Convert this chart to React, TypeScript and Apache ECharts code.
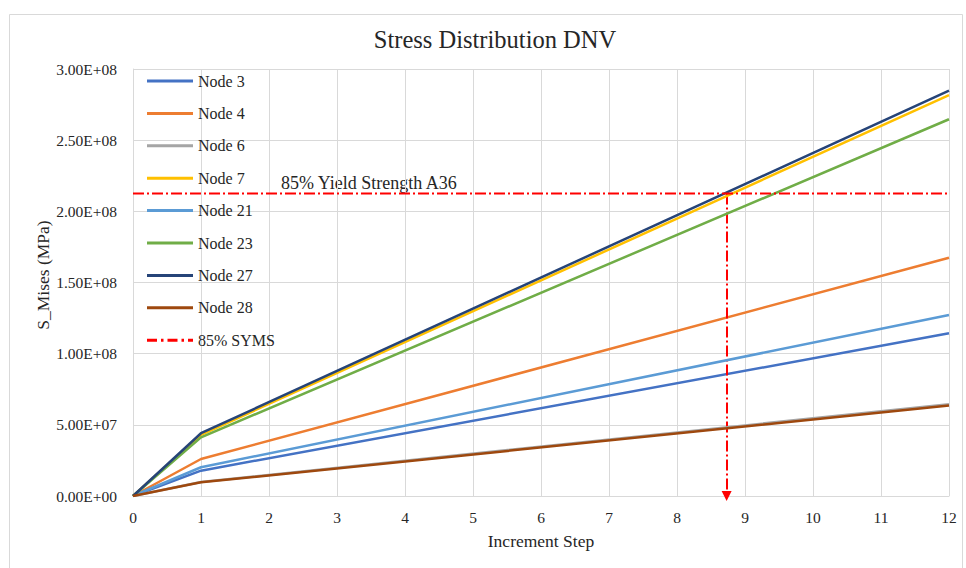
import React, { useEffect, useRef } from "react";
import * as echarts from "echarts";

const steps = [0, 1, 12];
const seriesNames = ["Node 3", "Node 4", "Node 6", "Node 7", "Node 21", "Node 23", "Node 27", "Node 28"];
const node3 = [0, 1.78e7, 1.143e8];
const node4 = [0, 2.6e7, 1.674e8];
const node6 = [0, 9.9e6, 6.45e7];
const node7 = [0, 4.3e7, 2.817e8];
const node21 = [0, 2.02e7, 1.272e8];
const node23 = [0, 4.12e7, 2.647e8];
const node27 = [0, 4.41e7, 2.848e8];
const node28 = [0, 9.6e6, 6.35e7];
const seriesValues = [node3, node4, node6, node7, node21, node23, node27, node28];
const seriesColors = ["#4472C4", "#ED7D31", "#A5A5A5", "#FFC000", "#5B9BD5", "#70AD47", "#264478", "#9E480E"];
const symsName = "85% SYMS";
const symsLevel = 2.125e8;
const symsRange = [0, 12];
const crossStep = 8.73;
const yieldLabel = "85% Yield Strength A36";

const FONT = "'Liberation Serif', 'Times New Roman', serif";
const TEXT = "#262626";
const GRID = "#d9d9d9";

const SOLID_ICON = "path://M0,0h46v3h-46z";
const DASH_ICON =
  "path://M0,0h10v3h-10z M14,0h2.5v3h-2.5z M20.5,0h10v3h-10z M34.5,0h2.5v3h-2.5z M41,0h5v3h-5z";

function sci(v: number): string {
  if (v === 0) return "0.00E+00";
  const e = Math.floor(Math.log10(Math.abs(v)) + 1e-9);
  const m = v / Math.pow(10, e);
  const sign = e < 0 ? "-" : "+";
  const ae = Math.abs(e);
  return m.toFixed(2) + "E" + sign + (ae < 10 ? "0" + ae : String(ae));
}

export default function App() {
  const ref = useRef<HTMLDivElement>(null);
  useEffect(() => {
    if (!ref.current) return;
    const chart = echarts.init(ref.current, undefined, { renderer: "svg" });
    const lineSeries = seriesNames.map((name, i) => ({
      name,
      type: "line",
      symbol: "none",
      data: steps.map((s, j) => [s, seriesValues[i][j]]),
      lineStyle: { color: seriesColors[i], width: 2.5 },
      itemStyle: { color: seriesColors[i] },
      z: 3 + i,
    }));
    const dash = [11, 3, 2, 3];
    const option: any = {
      animation: false,
      backgroundColor: "#fff",
      textStyle: { fontFamily: FONT },
      title: {
        text: "Stress Distribution DNV",
        left: 490,
        top: 22,
        textAlign: "center",
        textStyle: { fontFamily: FONT, fontSize: 24.5, fontWeight: "normal", color: TEXT },
      },
      legend: {
        orient: "vertical",
        left: 142,
        top: 68,
        itemWidth: 46,
        itemHeight: 3,
        itemGap: 16.4,
        symbolKeepAspect: false,
        data: [
          ...seriesNames.map((n) => ({ name: n, icon: SOLID_ICON })),
          { name: symsName, icon: DASH_ICON },
        ],
        textStyle: { fontFamily: FONT, fontSize: 16, color: TEXT },
        itemStyle: { borderWidth: 0 },
        lineStyle: { width: 0 },
      },
      grid: { left: 133, right: 17, top: 69, bottom: 72, containLabel: false },
      xAxis: {
        type: "value",
        min: 0,
        max: 12,
        interval: 1,
        name: "Increment Step",
        nameLocation: "middle",
        nameGap: 36,
        nameTextStyle: { fontFamily: FONT, fontSize: 17.5, color: TEXT },
        axisLine: { show: true, lineStyle: { color: GRID, width: 1 } },
        axisTick: { show: false },
        axisLabel: { fontFamily: FONT, fontSize: 15.5, color: TEXT, margin: 13 },
        splitLine: { show: true, lineStyle: { color: GRID, width: 1 } },
      },
      yAxis: {
        type: "value",
        min: 0,
        max: 3e8,
        interval: 5e7,
        axisLine: { show: true, lineStyle: { color: GRID, width: 1 } },
        axisTick: { show: false },
        axisLabel: { fontFamily: FONT, fontSize: 15.5, color: TEXT, margin: 16, formatter: (v: number) => sci(v) },
        splitLine: { show: true, lineStyle: { color: GRID, width: 1 } },
      },
      graphic: [
        {
          type: "rect",
          left: 7,
          top: 12,
          shape: { width: 953, height: 600 },
          style: { fill: "none", stroke: GRID, lineWidth: 1 },
          silent: true,
          z: -10,
        },
        {
          type: "text",
          x: 43,
          y: 275,
          rotation: Math.PI / 2,
          style: {
            text: "S_Mises (MPa)",
            fontFamily: FONT,
            fontSize: 17.5,
            fill: TEXT,
            align: "center",
            verticalAlign: "middle",
          },
        },
        {
          type: "text",
          x: 281,
          y: 183,
          style: {
            text: yieldLabel,
            fontFamily: FONT,
            fontSize: 18,
            fill: TEXT,
            align: "left",
            verticalAlign: "middle",
          },
        },
      ],
      series: [
        ...lineSeries,
        {
          name: symsName,
          type: "line",
          symbol: "none",
          data: symsRange.map((s) => [s, symsLevel]),
          lineStyle: { color: "#FF0000", width: 2, type: dash },
          itemStyle: { color: "#FF0000" },
          z: 20,
          markLine: {
            silent: true,
            symbol: ["none", "triangle"],
            symbolSize: [10, 10],
            symbolRotate: 180,
            label: { show: false },
            lineStyle: { color: "#FF0000", width: 2, type: dash },
            data: [[{ coord: [crossStep, symsLevel] }, { coord: [crossStep, 0] }]],
          },
        },
      ],
    };
    chart.setOption(option);
    return () => chart.dispose();
  }, []);
  return (
    <div style={{ position: "fixed", left: 0, top: 0, width: 966, height: 568, background: "#fff" }}>
      <div ref={ref} style={{ width: 966, height: 568 }} />
    </div>
  );
}
